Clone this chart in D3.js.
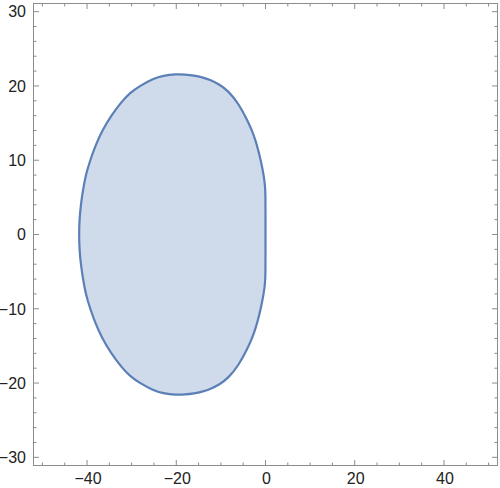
<!DOCTYPE html>
<html>
<head>
<meta charset="utf-8">
<script src="https://cdn.jsdelivr.net/npm/d3@7"></script>
<style>
  html, body { margin: 0; padding: 0; background: #fff; }
  svg { display: block; }
</style>
</head>
<body>
<svg id="chart" width="500" height="488"></svg>
<script>
// Region boundary (x, y), traced counter-clockwise from (0,0)
const boundaryX = [0, 0, 0, -0.1, -0.4, -1.0, -1.6, -2.3, -3.1, -4.0, -6.0, -8.3, -10.3, -12.5, -14.2, -16.0, -18.0, -20.0, -23.0, -25.1, -28.2, -30.3, -32.1, -34.6, -36.6, -38.1, -39.3, -40.3, -40.9, -41.4, -41.7, -41.8,
                   -41.7, -41.4, -40.9, -40.3, -39.3, -38.1, -36.6, -34.6, -32.1, -30.3, -28.2, -25.1, -23.0, -20.0, -18.0, -16.0, -14.2, -12.5, -10.3, -8.3, -6.0, -4.0, -3.1, -2.3, -1.6, -1.0, -0.4, -0.1, 0, 0];
const boundaryY = [0, 2.6, 5.2, 6.6, 8.0, 9.8, 11.3, 12.8, 14.1, 15.3, 17.6, 19.3, 20.2, 20.84, 21.18, 21.4, 21.55, 21.6, 21.4, 21.0, 20.0, 19.1, 18.0, 16.0, 14.0, 12.0, 10.0, 8.0, 6.0, 4.0, 2.0, 0,
                   -2.0, -4.0, -6.0, -8.0, -10.0, -12.0, -14.0, -16.0, -18.0, -19.1, -20.0, -21.0, -21.4, -21.6, -21.55, -21.4, -21.18, -20.84, -20.2, -19.3, -17.6, -15.3, -14.1, -12.8, -11.3, -9.8, -8.0, -6.6, -5.2, -2.6];

const xMajorTicks = [-40, -20, 0, 20, 40];
const yMajorTicks = [-30, -20, -10, 0, 10, 20, 30];
const xDomain = [-52, 52];
const yDomain = [-31.1, 31.1];

(function () {
const svg = d3.select("#chart");
const mLeft = 33.5, mRight = 497.5, mTop = 3.5, mBottom = 465.5;

const x = d3.scaleLinear().domain(xDomain).range([mLeft, mRight]);
const y = d3.scaleLinear().domain(yDomain).range([mBottom, mTop]);

const pts = boundaryX.map((v, i) => [v, boundaryY[i]]);
const line = d3.line().x(d => x(d[0])).y(d => y(d[1])).curve(d3.curveBasisClosed);

svg.append("path")
  .attr("d", line(pts))
  .attr("fill", "#cfdaeb")
  .attr("stroke", "#5b7fb7")
  .attr("stroke-width", 2.2)
  .attr("stroke-linejoin", "round");

const xMinor = d3.range(-50, 51, 5).filter(v => !xMajorTicks.includes(v));
const yMinor = d3.range(-30, 31, 2).filter(v => !yMajorTicks.includes(v));

const frameColor = "#8c8c8c";
const g = svg.append("g");
function addXTicks(vals, len) {
  vals.forEach(v => {
    g.append("line").attr("x1", x(v)).attr("x2", x(v)).attr("y1", mBottom).attr("y2", mBottom - len);
    g.append("line").attr("x1", x(v)).attr("x2", x(v)).attr("y1", mTop).attr("y2", mTop + len);
  });
}
function addYTicks(vals, len) {
  vals.forEach(v => {
    g.append("line").attr("y1", y(v)).attr("y2", y(v)).attr("x1", mLeft).attr("x2", mLeft + len);
    g.append("line").attr("y1", y(v)).attr("y2", y(v)).attr("x1", mRight).attr("x2", mRight - len);
  });
}
addXTicks(xMajorTicks, 5.5);
addXTicks(xMinor, 3);
addYTicks(yMajorTicks, 5.5);
addYTicks(yMinor, 3);
g.selectAll("line").attr("stroke", frameColor).attr("stroke-width", 1);

svg.append("rect")
  .attr("x", mLeft).attr("y", mTop)
  .attr("width", mRight - mLeft).attr("height", mBottom - mTop)
  .attr("fill", "none").attr("stroke", frameColor).attr("stroke-width", 1);

const fmt = v => (v < 0 ? "\u2212" + Math.abs(v) : String(v));
const font = "'Liberation Sans', Arial, Helvetica, sans-serif";

svg.append("g").selectAll("text").data(xMajorTicks).join("text")
  .attr("x", d => x(d) + 1)
  .attr("y", 484)
  .attr("text-anchor", "middle")
  .attr("font-family", font).attr("font-size", 16).attr("fill", "#222")
  .text(fmt);

svg.append("g").selectAll("text").data(yMajorTicks).join("text")
  .attr("x", 26)
  .attr("y", d => y(d))
  .attr("dy", "0.36em")
  .attr("text-anchor", "end")
  .attr("font-family", font).attr("font-size", 16).attr("fill", "#222")
  .text(fmt);
})();
</script>
</body>
</html>
